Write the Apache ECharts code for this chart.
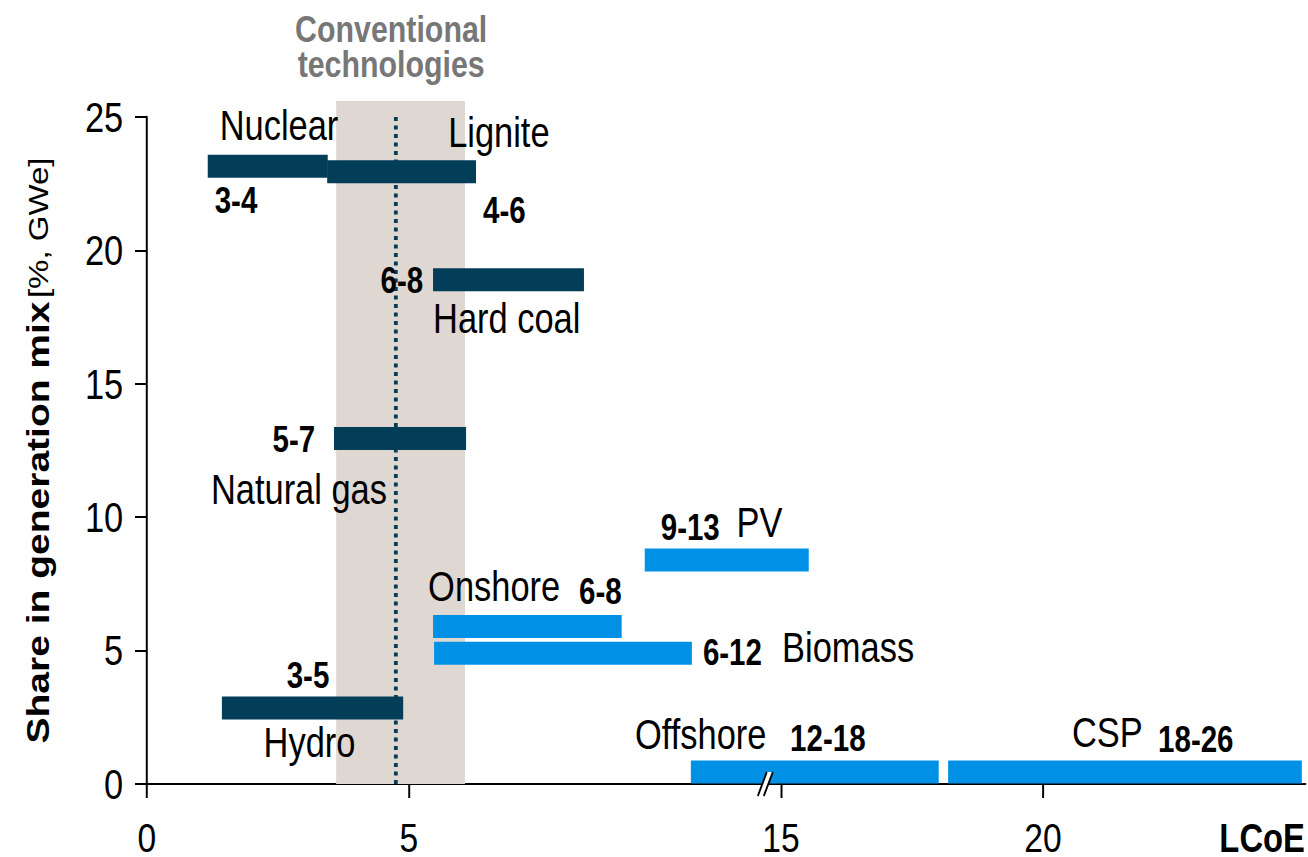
<!DOCTYPE html>
<html>
<head>
<meta charset="utf-8">
<script src="https://cdn.jsdelivr.net/npm/echarts@6/dist/echarts.min.js"></script>
<style>
  html, body { margin: 0; padding: 0; background: #fff; overflow: hidden; }
  /* the chart is laid out on a wider canvas and condensed horizontally,
     giving the narrow lettering of the figure */
  #chart { width: 1595px; height: 857px; transform: scaleX(0.82006); transform-origin: 0 0; }
</style>
</head>
<body>
<div id="chart"></div>
<script>
// Technologies, their LCoE ranges and their share in the generation mix
const technologies = ['Nuclear', 'Lignite', 'Hard coal', 'Natural gas', 'Hydro', 'Onshore', 'Biomass', 'PV', 'Offshore', 'CSP'];
const costRanges   = ['3-4', '4-6', '6-8', '5-7', '3-5', '6-8', '6-12', '9-13', '12-18', '18-26'];
const barStart     = [1.16, 3.44, 5.46, 3.57, 1.43, 5.46, 5.48, 9.50, 10.38, 18.19];
const barEnd       = [3.45, 6.28, 8.34, 6.09, 4.89, 9.06, 10.40, 15.53, 18.01, 24.94];
const shareMid     = [23.15, 22.95, 18.9, 12.95, 2.85, 5.9, 4.9, 8.4, 0.45, 0.45];
const tone         = ['dark', 'dark', 'dark', 'dark', 'dark', 'light', 'light', 'light', 'light', 'light'];

// Conventional-technology cost band, its top and the average cost line
const conventionalBand = [3.61, 6.07];
const conventionalTop = 25.6;
const averageCost = 4.75;

// Broken x axis
const axisBreak = [11.83, 14.73];
const xTicks = [0, 5, 15, 20];
const yTicks = [0, 5, 10, 15, 20, 25];

const FONT = "'Liberation Sans', Arial, sans-serif";
const COLORS = { dark: '#023e58', light: '#0091e7' };
const BAR_H = 23;

// Label placement: [anchor edge of bar, dx, dy from bar centre, text align]
const nameLayout = [
  ['l', 14.6, -41, 'left'],
  ['r', -34, -39.5, 'left'],
  ['l', 0, 38.5, 'left'],
  ['l', 64.6, 51, 'right'],
  ['c', -3.7, 34.5, 'center'],
  ['l', -6, -40, 'left'],
  ['r', 110, -6, 'left'],
  ['l', 112, -37.5, 'left'],
  ['l', -68, -38, 'left'],
  ['l', 151, -40, 'left']
];
const rangeLayout = [
  ['l', 8.5, 34.5, 'left'],
  ['r', 8.5, 39, 'left'],
  ['l', -12, 0.5, 'right'],
  ['l', -23, 1, 'right'],
  ['c', -5.5, -33, 'center'],
  ['r', 0, -35.5, 'right'],
  ['r', 13.4, -1, 'left'],
  ['l', 19.5, -32, 'left'],
  ['l', 121, -34, 'left'],
  ['l', 256, -33, 'left']
];

function anchorX(edge, x0, x1) {
  return edge === 'l' ? x0 : edge === 'r' ? x1 : (x0 + x1) / 2;
}

const barData = technologies.map((t, i) => [barStart[i], barEnd[i], shareMid[i]]);

const chart = echarts.init(document.getElementById('chart'), null, { renderer: 'svg' });

chart.setOption({
  animation: false,
  backgroundColor: '#fff',
  title: {
    text: 'Conventional\ntechnologies',
    left: 472,
    top: 6,
    textAlign: 'center',
    textStyle: { fontFamily: FONT, fontSize: 37, fontWeight: 'bold', color: '#777', lineHeight: 35 }
  },
  grid: { left: 179.2, right: 3.7, top: 117, bottom: 73, outerBoundsMode: 'none' },
  xAxis: {
    type: 'value',
    min: 0,
    max: 25,
    breaks: [{ start: axisBreak[0], end: axisBreak[1], gap: 0 }],
    breakArea: { show: false },
    axisLine: { lineStyle: { color: '#000', width: 2 } },
    axisTick: { show: true, length: 14, customValues: xTicks, lineStyle: { color: '#000', width: 2.4 } },
    axisLabel: { customValues: xTicks, margin: 37, lineHeight: 34, fontFamily: FONT, fontSize: 41, color: '#000' },
    splitLine: { show: false },
    name: 'LCoE',
    nameLocation: 'end',
    nameGap: 0,
    nameTextStyle: { fontFamily: FONT, fontSize: 40, lineHeight: 34, fontWeight: 'bold', color: '#000', align: 'right', verticalAlign: 'top', padding: [37, 0, 0, 0] }
  },
  yAxis: {
    type: 'value',
    min: 0,
    max: 25,
    interval: 5,
    axisLine: { show: true, lineStyle: { color: '#000', width: 2.4 } },
    axisTick: { show: true, length: 14.6, customValues: yTicks, lineStyle: { color: '#000', width: 2 } },
    axisLabel: { margin: 29, fontFamily: FONT, fontSize: 42, color: '#000' },
    splitLine: { show: false },
    name: '{b|Share in generation mix} {r|[%, GWe]}',
    nameLocation: 'middle',
    nameRotate: 90,
    nameGap: 113,
    nameTextStyle: {
      rich: {
        b: { fontFamily: FONT, fontSize: 39, fontWeight: 'bold', color: '#000' },
        r: { fontFamily: FONT, fontSize: 33, color: '#000' }
      }
    }
  },
  series: [
    {
      // shaded band of conventional technologies
      type: 'custom',
      z: 1,
      silent: true,
      data: [[conventionalBand[0], conventionalBand[1], conventionalTop]],
      renderItem(params, api) {
        const a = api.coord([api.value(0), api.value(2)]);
        const b = api.coord([api.value(1), 0]);
        return { type: 'rect', shape: { x: a[0], y: a[1], width: b[0] - a[0], height: b[1] - a[1] }, style: { fill: '#dfd7d1' } };
      }
    },
    {
      // average cost of conventional generation
      type: 'line',
      z: 2,
      silent: true,
      symbol: 'none',
      data: [[averageCost, 0], [averageCost, 25]],
      lineStyle: { color: COLORS.dark, width: 4.6, type: [4, 4.5] }
    },
    {
      // cost range bars with name and range labels
      type: 'custom',
      z: 3,
      silent: true,
      data: barData,
      renderItem(params, api) {
        const i = params.dataIndex;
        const p0 = api.coord([api.value(0), api.value(2)]);
        const p1 = api.coord([api.value(1), api.value(2)]);
        const x0 = p0[0], x1 = p1[0], cy = p0[1];
        const nl = nameLayout[i], rl = rangeLayout[i];
        return {
          type: 'group',
          children: [
            { type: 'rect', shape: { x: x0, y: cy - BAR_H / 2, width: x1 - x0, height: BAR_H }, style: { fill: COLORS[tone[i]] } },
            { type: 'text', style: { x: anchorX(nl[0], x0, x1) + nl[1], y: cy + nl[2], text: technologies[i], align: nl[3], verticalAlign: 'middle', font: '42px ' + FONT, fill: '#000' } },
            { type: 'text', style: { x: anchorX(rl[0], x0, x1) + rl[1], y: cy + rl[2], text: costRanges[i], align: rl[3], verticalAlign: 'middle', font: 'bold 36px ' + FONT, fill: '#000' } }
          ]
        };
      }
    },
    {
      // break mark on the x axis
      type: 'custom',
      z: 5,
      silent: true,
      data: [[axisBreak[0], 0]],
      renderItem(params, api) {
        const c = api.coord([api.value(0), api.value(1)]);
        const x = c[0], y = c[1];
        return {
          type: 'group',
          children: [
            { type: 'polygon', shape: { points: [[x - 11, y + 12], [x, y - 12], [x + 7.3, y - 12], [x - 3.7, y + 12]] }, style: { fill: '#fff' } },
            { type: 'line', shape: { x1: x - 11, y1: y + 12, x2: x, y2: y - 12 }, style: { stroke: '#000', lineWidth: 2.2 } },
            { type: 'line', shape: { x1: x - 3.7, y1: y + 12, x2: x + 7.3, y2: y - 12 }, style: { stroke: '#000', lineWidth: 2.2 } }
          ]
        };
      }
    }
  ]
});
</script>
</body>
</html>
